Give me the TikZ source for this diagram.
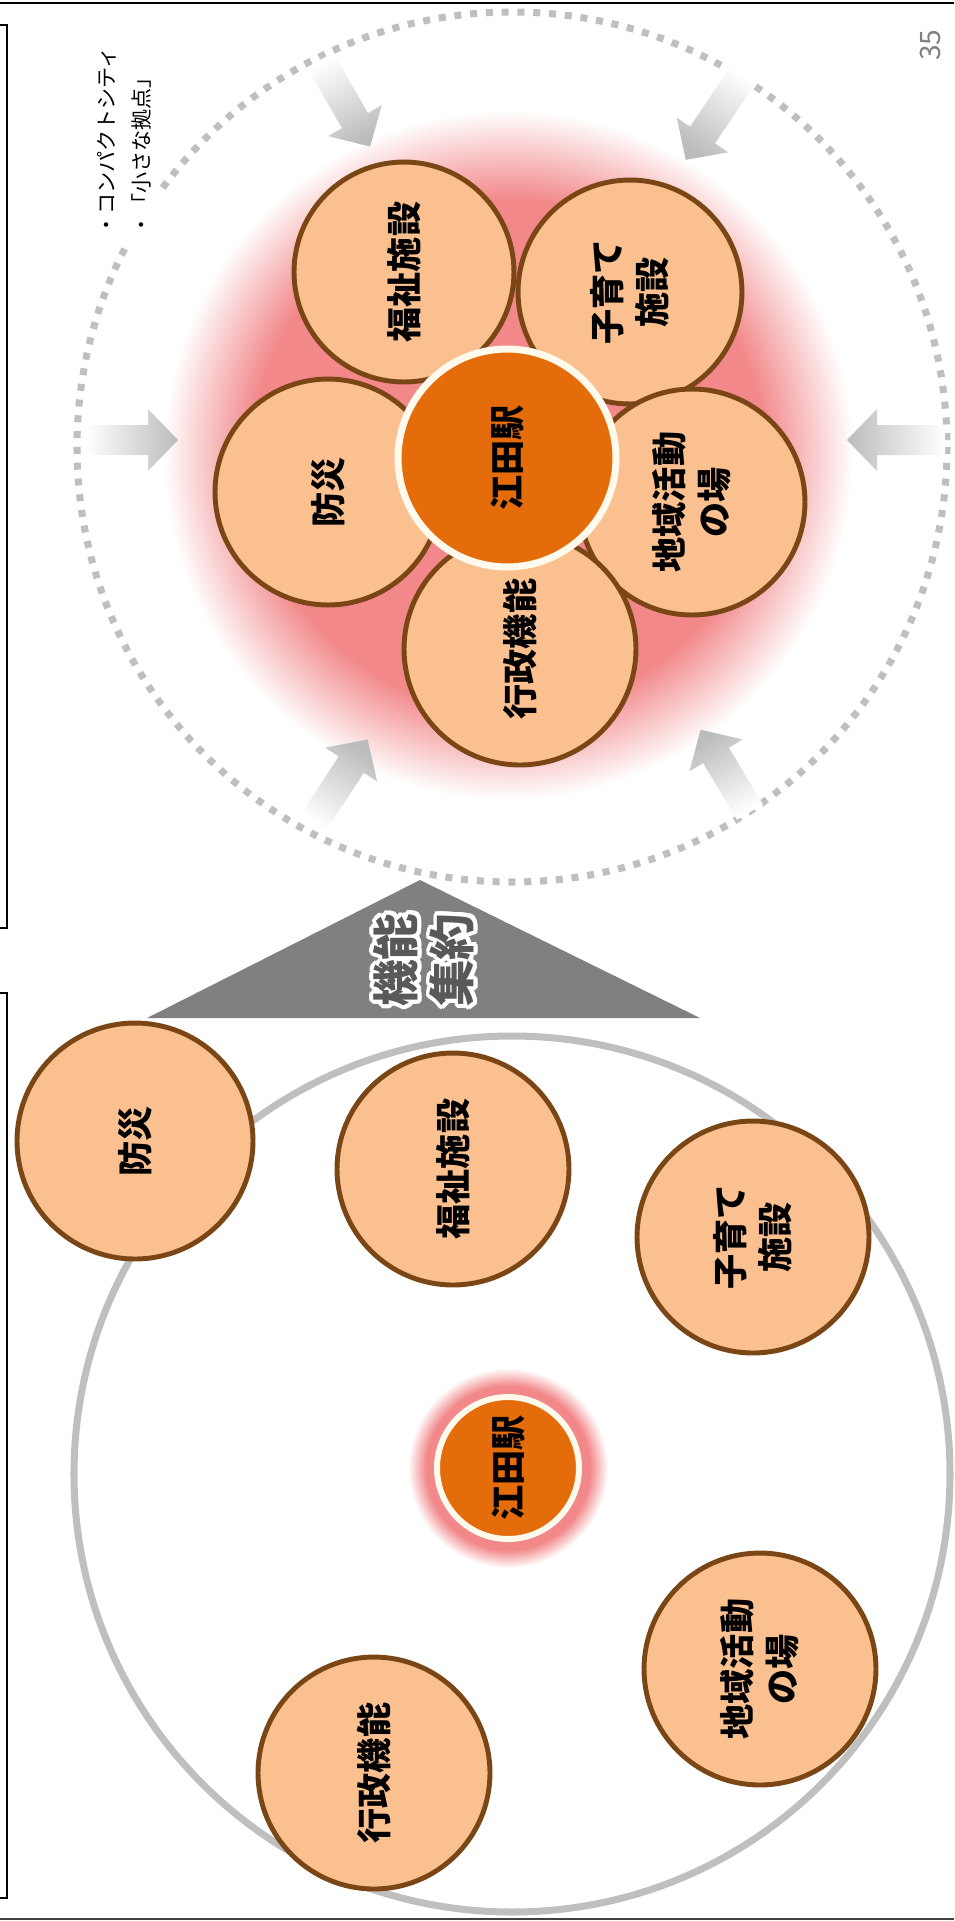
\documentclass[tikz,border=0pt]{standalone}
\usepackage{fontspec}
\setmainfont{Noto Sans CJK JP}

\definecolor{petalfill}{RGB}{250,192,144}
\definecolor{petalline}{RGB}{122,70,22}
\definecolor{huborange}{RGB}{228,108,10}
\definecolor{hubring}{RGB}{255,250,236}
\definecolor{glowpink}{RGB}{242,136,138}
\definecolor{dotgrey}{RGB}{191,191,191}
\definecolor{arrowgrey}{RGB}{188,188,188}
\definecolor{wedgegrey}{RGB}{128,128,128}
\definecolor{wedgetext}{RGB}{89,89,89}
\definecolor{numgrey}{RGB}{128,128,128}

\pgfdeclareradialshading{petalglow}{\pgfpointorigin}{color(0bp)=(glowpink); color(18.5bp)=(glowpink); color(25bp)=(white); color(50bp)=(white)}
\pgfdeclareradialshading{hubglow}{\pgfpointorigin}{color(0bp)=(glowpink); color(20.5bp)=(glowpink); color(25bp)=(white); color(50bp)=(white)}

% grey arrow pointing inwards: tail, direction, length
\newcommand{\inflow}[3]{%
  \begin{scope}[shift={#1}, rotate=#2]
    \shade[top color=arrowgrey, bottom color=white, shading angle={#2-90}]
      (0,-15) -- ({#3-30},-15) -- ({#3-30},-31) -- (#3,0) -- ({#3-30},31) -- ({#3-30},15) -- (0,15) -- cycle;
  \end{scope}}

\begin{document}
\begin{tikzpicture}[x=0.02cm, y=-0.02cm,
  petal/.style={circle, draw=petalline, fill=petalfill, line width=2.8pt, inner sep=0pt,
    rotate=90, align=center, font=\bfseries\fontsize{20}{25.5}\selectfont},
  hub/.style={circle, draw=hubring, fill=huborange, line width=4pt, inner sep=0pt,
    rotate=90, font=\bfseries\fontsize{20}{25.5}\selectfont},
  wedgelabel/.style={rotate=90, align=center, inner sep=0pt,
    font=\bfseries\fontsize{26.5}{32}\selectfont}]
\useasboundingbox (0,0) rectangle (954,1921);

% page frame
\draw[line width=1.7pt] (0,3) -- (954,3);
\draw[line width=1.2pt, black!75] (0,1919) -- (954,1919);
\draw[line width=1.6pt] (0,25) -- (7,25) -- (7,928) -- (0,928);
\draw[line width=1.6pt] (0,993) -- (7,993) -- (7,1898) -- (0,1898);
\node[rotate=90, text=numgrey, font=\fontsize{16}{18}\selectfont] (pagenum) at (930,45) {35};

%%% after: compact city
\shade[shading=petalglow] (508,455) circle (345);
\draw[dotgrey, line width=4pt, dash pattern=on 4pt off 5pt] (512,447) circle (435);
\node[rotate=90, anchor=north west, align=left, fill=white, inner sep=5pt,
  font=\fontsize{12}{20}\selectfont] (tag) at (88,245) {・コンパクトシティ\\・「小さな拠点」};

\inflow{(320,60)}{-60}{100}
\inflow{(745,72)}{-124}{106}
\inflow{(85,440)}{0}{93}
\inflow{(945,440)}{180}{98}
\inflow{(312,825)}{57}{102}
\inflow{(750,812)}{121}{96}

\node[petal, minimum size=4.52cm] (safetyA) at (328,492) {防災};
\node[petal, minimum size=4.4cm] (welfareA) at (404,272) {福祉施設};
\node[petal, minimum size=4.48cm] (childA) at (630,292) {子育て\\施設};
\node[petal, minimum size=4.52cm] (localA) at (692,502) {地域活動\\の場};
\node[petal, minimum size=4.64cm] (adminA) at (520,649) {行政機能};
\node[hub, minimum size=4.36cm] (stationA) at (507,458) {江田駅};

%%% arrow between
\fill[wedgegrey] (420,880) -- (700,1018) -- (147,1018) -- cycle;
\foreach \a in {0,20,...,340}
  \foreach \r in {2,4}
    \node[wedgelabel, text=white, shift={(\a:\r)}] at (424,960) {機能\\集約};
\node[wedgelabel, text=wedgetext] (merge) at (424,960) {機能\\集約};

%%% before: scattered
\draw[dotgrey, line width=4pt] (512,1474) circle (438);
\shade[shading=hubglow] (508,1468) circle (100);
\node[petal, minimum size=4.72cm] (safetyB) at (135,1141) {防災};
\node[petal, minimum size=4.64cm] (welfareB) at (453,1169) {福祉施設};
\node[petal, minimum size=4.64cm] (childB) at (753,1237) {子育て\\施設};
\node[petal, minimum size=4.64cm] (localB) at (760,1669) {地域活動\\の場};
\node[petal, minimum size=4.64cm] (adminB) at (374,1773) {行政機能};
\node[hub, minimum size=2.84cm, line width=3.4pt] (stationB) at (508,1468) {江田駅};
\end{tikzpicture}
\end{document}
